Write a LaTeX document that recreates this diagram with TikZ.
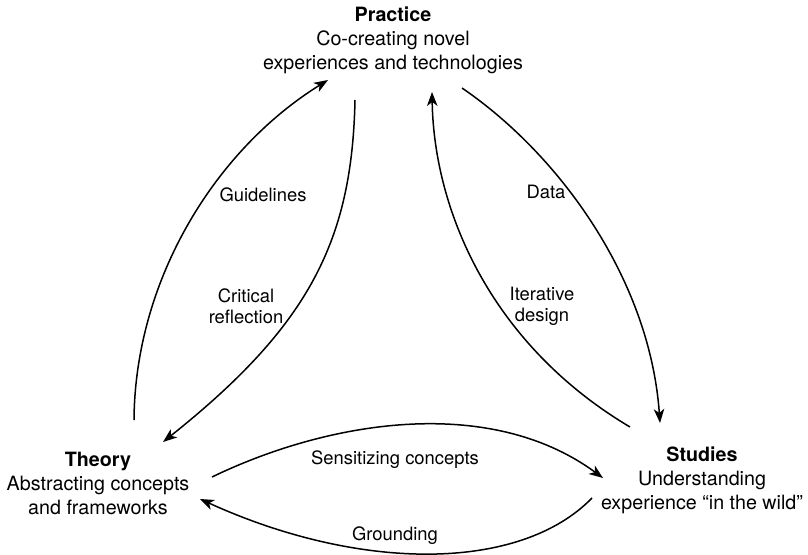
\documentclass[tikz,border=0pt]{standalone}
\usepackage{fontspec}
\setmainfont{TeX Gyre Heros}
\usetikzlibrary{arrows.meta}
\begin{document}
\begin{tikzpicture}[x=1pt,y=-1pt,
  flow/.style={line width=1.5pt, -{Stealth[length=14pt,width=10.5pt,inset=4pt]}},
  stage/.style={anchor=north, inner sep=0pt, align=center,
    font=\fontsize{19.7}{24}\selectfont},
  cue/.style={anchor=north, inner sep=0pt, align=center,
    font=\fontsize{18.4}{20.5}\selectfont}]
\useasboundingbox (0,0) rectangle (808,554);

% the three stages of the cycle
\node[stage] (practice) at (393,7)
  {\textbf{Practice}\\Co-creating novel\\experiences and technologies};
\node[stage] (theory) at (98,452)
  {\textbf{Theory}\\Abstracting concepts\\and frameworks};
\node[stage] (studies) at (702,447)
  {\textbf{Studies}\\Understanding\\experience “in the wild”};

% end points of the connectors around each stage
\coordinate (th-up)        at (134,420);
\coordinate (th-in-top)    at (163,442);
\coordinate (th-right)     at (212,477);
\coordinate (th-in-right)  at (200,499);
\coordinate (pr-in-left)   at (328,80);
\coordinate (pr-out-left)  at (355,100);
\coordinate (pr-in-right)  at (432,92);
\coordinate (pr-out-right) at (462,88);
\coordinate (st-up)        at (630,427);
\coordinate (st-in-top)    at (660,423);
\coordinate (st-in-left)   at (603,478);
\coordinate (st-left)      at (592,498);

% connectors
\draw[flow] (th-up) .. controls (135,280) and (215,150) .. (pr-in-left);
\draw[flow] (pr-out-left) .. controls (352,240) and (310,325) .. (th-in-top);
\draw[flow] (pr-out-right) .. controls (560,155) and (650,280) .. (st-in-top);
\draw[flow] (st-up) .. controls (492,345) and (434,212) .. (pr-in-right);
\draw[flow] (th-right) .. controls (330,420) and (490,395) .. (st-in-left);
\draw[flow] (st-left) .. controls (520,572) and (360,572) .. (th-in-right);

% connector labels
\node[cue] (lbl-guide)  at (263,188) {Guidelines};
\node[cue] (lbl-crit)   at (246,289) {Critical\\reflection};
\node[cue] (lbl-data)   at (546,185) {Data};
\node[cue] (lbl-iter)   at (542,287) {Iterative\\design};
\node[cue] (lbl-sens)   at (395,451) {Sensitizing concepts};
\node[cue] (lbl-ground) at (395,527) {Grounding};
\end{tikzpicture}
\end{document}
